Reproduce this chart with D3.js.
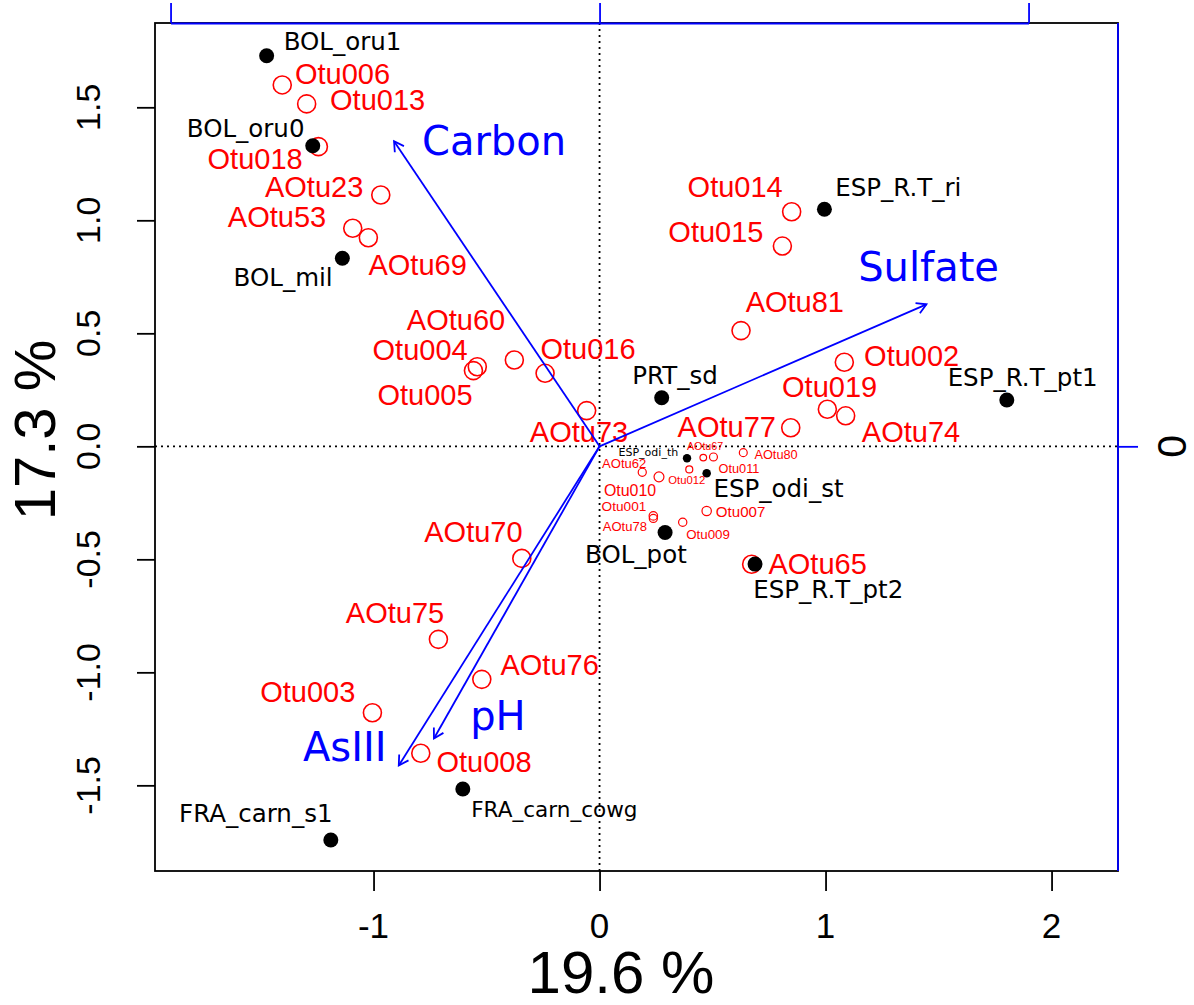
<!DOCTYPE html>
<html><head><meta charset="utf-8">
<script src="https://cdn.jsdelivr.net/npm/d3@7"></script>
<style>body{margin:0;background:#fff}</style>
</head><body>
<svg id="chart" width="1194" height="1005"></svg>
<script>
// ---------- data ----------
const siteNames = ["BOL_oru1","BOL_oru0","BOL_mil","ESP_R.T_ri","PRT_sd","ESP_R.T_pt1","ESP_odi_th","ESP_odi_st","BOL_pot","ESP_R.T_pt2","FRA_carn_cowg","FRA_carn_s1"];
const siteX = [-1.473,-1.269,-1.138,0.995,0.275,1.802,0.387,0.474,0.290,0.688,-0.605,-1.189];
const siteY = [1.728,1.330,0.832,1.049,0.215,0.205,-0.053,-0.119,-0.381,-0.521,-1.516,-1.742];
const siteLabelX = [-1.137,-1.566,-1.400,1.322,0.334,1.872,0.216,0.792,0.161,1.012,-0.200,-1.521];
const siteLabelY = [1.792,1.408,0.750,1.149,0.317,0.308,-0.025,-0.183,-0.477,-0.631,-1.605,-1.621];
const sitePointCex = [1,1,1,1,1,1,0.56,0.57,1,1,1,1];
const siteLabelCex = [1,1,1,1,1,1,0.45,1,1,1,0.88,1];

const otuNames = ["Otu006","Otu013","Otu018","AOtu23","AOtu53","AOtu69","AOtu60","Otu004","Otu005","Otu016","AOtu73","Otu014","Otu015","AOtu81","Otu002","Otu019","AOtu74","AOtu77","AOtu70","AOtu75","AOtu76","Otu003","Otu008","AOtu65","AOtu67","Otu011","AOtu80","AOtu62","Otu012","Otu010","Otu001","AOtu78","Otu007","Otu009"];
const otuX = [-1.404,-1.296,-1.244,-0.968,-1.092,-1.023,-0.377,-0.541,-0.558,-0.241,-0.057,0.850,0.809,0.626,1.083,1.008,1.089,0.846,-0.344,-0.713,-0.521,-1.005,-0.791,0.673,0.459,0.504,0.636,0.189,0.397,0.263,0.238,0.238,0.474,0.368];
const otuY = [1.599,1.515,1.326,1.112,0.965,0.923,0.382,0.352,0.335,0.323,0.158,1.038,0.886,0.512,0.372,0.164,0.135,0.082,-0.496,-0.854,-1.031,-1.179,-1.358,-0.522,-0.050,-0.047,-0.028,-0.115,-0.102,-0.135,-0.308,-0.319,-0.286,-0.336];
const otuLabelX = [-1.137,-0.982,-1.524,-1.263,-1.427,-0.805,-0.635,-0.794,-0.772,-0.051,-0.091,0.600,0.515,0.864,1.381,1.018,1.378,0.563,-0.558,-0.905,-0.221,-1.291,-0.511,0.965,0.467,0.617,0.781,0.109,0.386,0.135,0.108,0.112,0.624,0.480];
const otuLabelY = [1.647,1.532,1.271,1.149,1.016,0.802,0.559,0.426,0.227,0.434,0.065,1.147,0.950,0.640,0.401,0.265,0.065,0.087,-0.378,-0.734,-0.968,-1.086,-1.396,-0.518,0.000,-0.097,-0.038,-0.077,-0.149,-0.193,-0.263,-0.356,-0.288,-0.387];
const otuCex = [1,1,1,1,1,1,1,1,1,1,1,1,1,1,1,1,1,1,1,1,1,1,1,1,0.37,0.44,0.44,0.45,0.39,0.55,0.47,0.45,0.52,0.46];

const varNames = ["Carbon","Sulfate","AsIII","pH"];
const varX = [-0.479,0.762,-0.468,-0.386];
const varY = [0.711,0.331,-0.744,-0.681];
const varLabelX = [-0.246,0.767,-0.594,-0.237];
const varLabelY = [0.713,0.419,-0.699,-0.627];

const xTicks = [-1,0,1,2];
const xTickLabels = ["-1","0","1","2"];
const yTicks = [-1.5,-1.0,-0.5,0.0,0.5,1.0,1.5];
const yTickLabels = ["-1.5","-1.0","-0.5","0.0","0.5","1.0","1.5"];
const arrowTopTicks = [-1,0,1];
const arrowRightTicks = [0];
const arrowRightTickLabels = ["0"];
const xTitle = "19.6 %";
const yTitle = "17.3 %";

// ---------- layout ----------
const L = 155, R = 1118, T = 23, B = 871;
const x = d3.scaleLinear().domain([-1.967, 2.294]).range([L, R]);
const y = d3.scaleLinear().domain([-1.879, 1.873]).range([B, T]);
const ax = d3.scaleLinear().domain([-1, 1]).range([x(0) - 429, x(0) + 429]);
const ay = d3.scaleLinear().domain([-1, 1]).range([y(0) + 429, y(0) - 429]);

const svg = d3.select("#chart");
const RED = "#ff0000", BLUE = "#0000ff";
const SANS_R = "'Liberation Sans', Arial, sans-serif";
const SANS_D = "'DejaVu Sans', sans-serif";

// dotted zero lines
svg.append("line").attr("x1", x(0)).attr("x2", x(0)).attr("y1", T).attr("y2", B)
  .attr("stroke", "#000").attr("stroke-width", 1.8).attr("stroke-dasharray", "2,4");
svg.append("line").attr("x1", L).attr("x2", R).attr("y1", y(0)).attr("y2", y(0))
  .attr("stroke", "#000").attr("stroke-width", 1.8).attr("stroke-dasharray", "2,4");

// box
svg.append("rect").attr("x", L).attr("y", T).attr("width", R - L).attr("height", B - T)
  .attr("fill", "none").attr("stroke", "#000").attr("stroke-width", 1.8);

// bottom axis
const gx = svg.append("g").attr("transform", `translate(0,${B})`)
  .call(d3.axisBottom(x).tickValues(xTicks).tickSize(20).tickSizeOuter(0).tickFormat(""));
gx.select(".domain").remove();
gx.selectAll("line").attr("stroke", "#000").attr("stroke-width", 1.8);
svg.selectAll(".xtl").data(xTicks).join("text").attr("class", "xtl")
  .attr("x", d => x(d)).attr("y", 938).attr("text-anchor", "middle")
  .attr("font-family", SANS_R).attr("font-size", 35).text((d, i) => xTickLabels[i]);

// left axis
const gy = svg.append("g").attr("transform", `translate(${L},0)`)
  .call(d3.axisLeft(y).tickValues(yTicks).tickSize(18).tickSizeOuter(0).tickFormat(""));
gy.select(".domain").remove();
gy.selectAll("line").attr("stroke", "#000").attr("stroke-width", 1.8);
svg.selectAll(".ytl").data(yTicks).join("text").attr("class", "ytl")
  .attr("transform", d => `translate(100,${y(d)}) rotate(-90)`).attr("text-anchor", "middle")
  .attr("font-family", SANS_R).attr("font-size", 34).text((d, i) => yTickLabels[i]);

// top (arrow) axis
const gt = svg.append("g").attr("transform", `translate(0,${T})`)
  .call(d3.axisTop(ax).tickValues(arrowTopTicks).tickSize(20).tickSizeOuter(0).tickFormat(""));
gt.selectAll("path,line").attr("stroke", BLUE).attr("stroke-width", 1.8);

// right (arrow) axis
const gr = svg.append("g").attr("transform", `translate(${R},0)`)
  .call(d3.axisRight(ay).tickValues(arrowRightTicks).tickSize(20).tickSizeOuter(0).tickFormat(""));
gr.select(".domain").remove();
gr.selectAll("line").attr("stroke", BLUE).attr("stroke-width", 1.8);
svg.append("line").attr("x1", R).attr("x2", R).attr("y1", T).attr("y2", B)
  .attr("stroke", BLUE).attr("stroke-width", 1.8);
svg.selectAll(".rtl").data(arrowRightTicks).join("text").attr("class", "rtl")
  .attr("transform", d => `translate(1186,${ay(d)}) rotate(-90)`).attr("text-anchor", "middle")
  .attr("font-family", SANS_R).attr("font-size", 41).text((d, i) => arrowRightTickLabels[i]);

// titles
svg.append("text").attr("x", 621).attr("y", 993).attr("text-anchor", "middle")
  .attr("font-family", SANS_R).attr("font-size", 60).text(xTitle);
svg.append("text").attr("transform", "translate(55,430) rotate(-90)").attr("text-anchor", "middle")
  .attr("font-family", SANS_R).attr("font-size", 58).text(yTitle);

// OTU circles
const otus = otuNames.map((n, i) => ({ n, x: otuX[i], y: otuY[i], lx: otuLabelX[i], ly: otuLabelY[i], c: otuCex[i] }));
svg.append("g").selectAll("circle").data(otus).join("circle")
  .attr("cx", d => x(d.x)).attr("cy", d => y(d.y)).attr("r", d => 9 * d.c)
  .attr("fill", "none").attr("stroke", RED).attr("stroke-width", d => d.c < 1 ? 1.2 : 1.6);

// site points
const sites = siteNames.map((n, i) => ({ n, x: siteX[i], y: siteY[i], lx: siteLabelX[i], ly: siteLabelY[i], pc: sitePointCex[i], lc: siteLabelCex[i] }));
svg.append("g").selectAll("circle").data(sites).join("circle")
  .attr("cx", d => x(d.x)).attr("cy", d => y(d.y)).attr("r", d => 7.5 * d.pc).attr("fill", "#000");

// OTU labels
svg.append("g").selectAll("text").data(otus).join("text")
  .attr("x", d => x(d.lx)).attr("y", d => y(d.ly)).attr("dy", "0.358em")
  .attr("text-anchor", "middle").attr("font-family", SANS_R)
  .attr("font-size", d => 29 * d.c).attr("fill", RED).text(d => d.n);

// site labels
svg.append("g").selectAll("text").data(sites).join("text")
  .attr("x", d => x(d.lx)).attr("y", d => y(d.ly)).attr("dy", "0.365em")
  .attr("text-anchor", "middle").attr("font-family", SANS_D)
  .attr("font-size", d => 24.5 * d.lc).attr("fill", "#000").text(d => d.n);

// arrows
const vars = varNames.map((n, i) => ({ n, x: varX[i], y: varY[i], lx: varLabelX[i], ly: varLabelY[i] }));
const ga = svg.append("g");
vars.forEach(v => {
  const x0 = ax(0), y0 = ay(0), x1 = ax(v.x), y1 = ay(v.y);
  ga.append("line").attr("x1", x0).attr("y1", y0).attr("x2", x1).attr("y2", y1)
    .attr("stroke", BLUE).attr("stroke-width", 1.8);
  const th = Math.atan2(y1 - y0, x1 - x0), hl = 11, phi = Math.PI / 6;
  const p = [[x1 - hl * Math.cos(th - phi), y1 - hl * Math.sin(th - phi)], [x1, y1],
             [x1 - hl * Math.cos(th + phi), y1 - hl * Math.sin(th + phi)]];
  ga.append("path").attr("d", d3.line()(p)).attr("fill", "none")
    .attr("stroke", BLUE).attr("stroke-width", 1.8);
});
ga.selectAll("text").data(vars).join("text")
  .attr("x", d => ax(d.lx)).attr("y", d => ay(d.ly)).attr("dy", "0.365em")
  .attr("text-anchor", "middle").attr("font-family", SANS_D)
  .attr("font-size", 40).attr("fill", BLUE).text(d => d.n);
</script>
</body></html>
